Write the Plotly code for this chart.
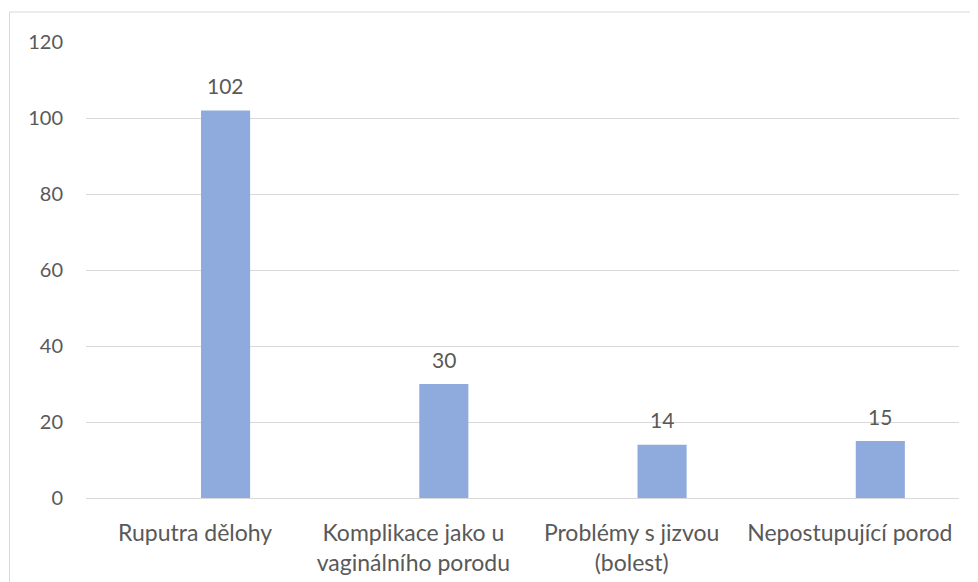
import plotly.graph_objects as go

categories = ["Ruputra dělohy", "Komplikace jako u<br>vaginálního porodu",
              "Problémy s jizvou<br>(bolest)", "Nepostupující porod"]
values = [102, 30, 14, 15]
y_ticks = [0, 20, 40, 60, 80, 100, 120]

FONT = "Lato"
TXT = "#595959"
GRID = "#d9d9d9"
BAR = "#8FAADC"

BAR_W = 0.225
BAR_OFF = 0.027

fig = go.Figure()
fig.add_trace(go.Bar(
    x=categories, y=values, width=BAR_W, offset=BAR_OFF,
    marker=dict(color=BAR, line=dict(width=0)),
    hoverinfo="x+y",
))

for c, v in zip(categories, values):
    fig.add_annotation(x=c, y=v, text=str(v), showarrow=False,
                       xshift=30.5, yshift=25, yanchor="middle",
                       font=dict(family=FONT, size=21, color=TXT))

# outer chart border
fig.add_shape(type="rect", xref="paper", yref="paper",
              x0=-0.0876, x1=1.04, y0=-0.25, y1=1.0658,
              line=dict(color=GRID, width=1), fillcolor="rgba(0,0,0,0)", layer="below")

fig.update_layout(
    width=970, height=574,
    margin=dict(l=78, r=19, t=34, b=84, autoexpand=False),
    paper_bgcolor="white", plot_bgcolor="white",
    showlegend=False,
    font=dict(family=FONT, size=20, color=TXT),
    xaxis=dict(type="category", range=[-0.5, 3.5], showgrid=False,
               showline=True, linecolor=GRID, linewidth=1, automargin=False,
               ticks="", tickfont=dict(family=FONT, size=23, color=TXT),
               ticklabelstandoff=14),
    yaxis=dict(range=[0, 120], tickvals=y_ticks, showgrid=True, gridcolor=GRID,
               gridwidth=1, zeroline=False, showline=False, ticks="", automargin=False,
               tickfont=dict(family=FONT, size=20, color=TXT),
               ticklabelstandoff=22),
)

fig.write_html("out.html")
